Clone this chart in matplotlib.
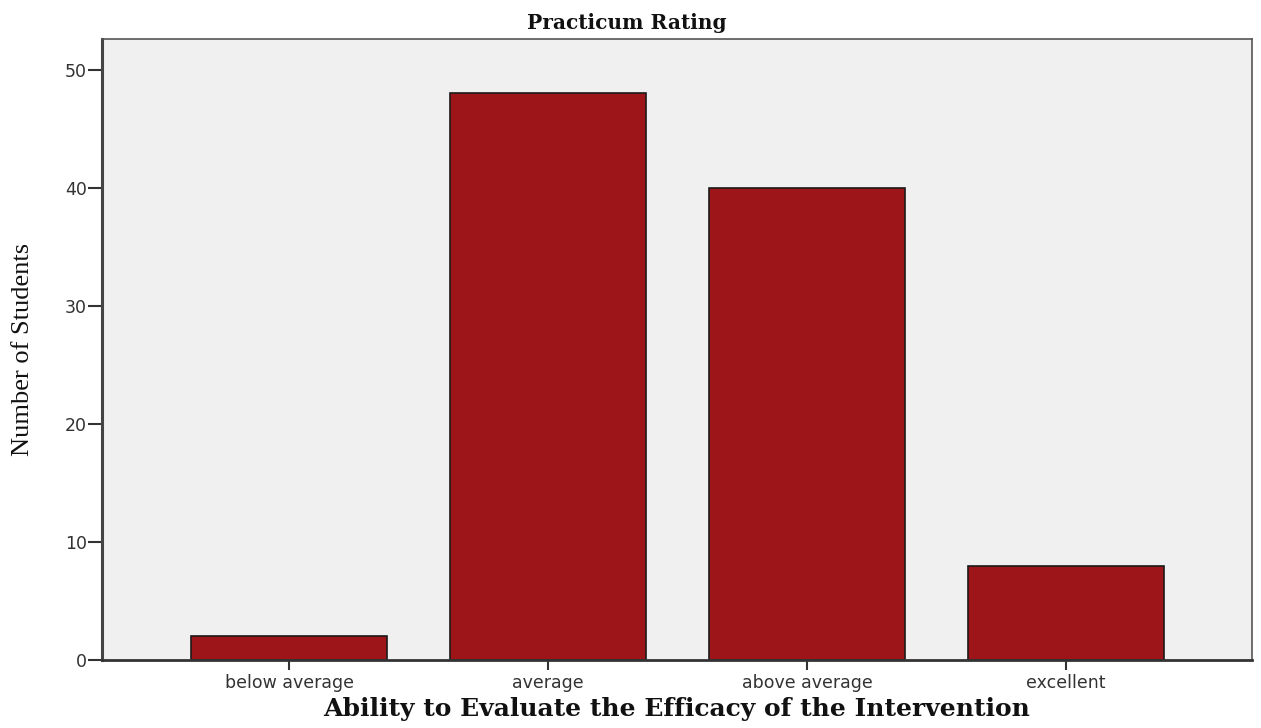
import matplotlib
matplotlib.use('Agg')
import matplotlib.pyplot as plt
import numpy as np

categories = ['below average', 'average', 'above average', 'excellent']
counts = [2, 48, 40, 8]
yticks = [0, 10, 20, 30, 40, 50]

fig = plt.figure(figsize=(12.61, 7.28), dpi=100)
ax = fig.add_axes([0.0809, 0.0934, 0.912, 0.853])
ax.set_facecolor('#f0f0f0')

x = np.arange(len(categories))
ax.bar(x, counts, width=0.757, color='#9e1519', edgecolor='#1a1a1a', linewidth=1.2, zorder=2)

ax.set_xlim(-0.724, 3.72)
ax.set_ylim(0, 52.6)
ax.set_xticks(x)
ax.set_xticklabels(categories, fontsize=12.5, family='DejaVu Sans', color='#333333')
ax.set_yticks(yticks)
ax.set_yticklabels([str(t) for t in yticks], fontsize=12.5, family='DejaVu Sans', color='#333333')
ax.tick_params(axis='y', length=10, width=1.5, color='#333333', pad=1)
ax.tick_params(axis='x', length=7, width=1.5, color='#333333', pad=3)

for s in ax.spines.values():
    s.set_color('#555555')
    s.set_linewidth(1.2)
ax.spines['left'].set_linewidth(2.2)
ax.spines['bottom'].set_linewidth(2.0)
ax.spines['left'].set_color('#444444')
ax.spines['bottom'].set_color('#333333')

# title is centred on the figure, not the axes
fig.text(0.497, 0.968, 'Practicum Rating', fontsize=14.5, fontweight='bold',
         family='DejaVu Serif', ha='center', va='center', color='#111111')
ax.set_xlabel('Ability to Evaluate the Efficacy of the Intervention', fontsize=18,
              fontweight='bold', family='DejaVu Serif', labelpad=4, color='#111111')
ax.set_ylabel('Number of Students', fontsize=19, family='Liberation Serif', labelpad=22,
              color='#111111')

fig.savefig('out.png', dpi=100)
